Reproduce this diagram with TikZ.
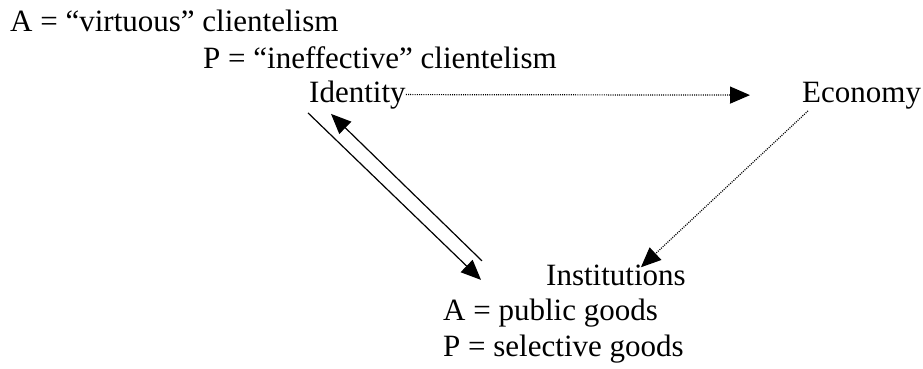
\documentclass[tikz,border=0pt]{standalone}
\usepackage{fontspec}
\setmainfont{Liberation Serif}
\usepackage{tikz}
\usetikzlibrary{arrows.meta,positioning,calc}

\begin{document}
\begin{tikzpicture}[x=1pt,y=-1pt,
  lbl/.style={anchor=base west, inner sep=0pt, font=\fontsize{31}{36}\selectfont},
  link/.style={line width=1.2pt, -{Triangle[length=20pt,width=17pt]}},
  weak/.style={link, dash pattern=on 1pt off 1.2pt}]
  \useasboundingbox (0,0) rectangle (923,369);
  % definitions of the two kinds of clientelism
  \node[lbl] (virtuous) at (10,32) {A = “virtuous” clientelism};
  \node[lbl] (ineffective) at (203,68) {P = “ineffective” clientelism};
  % the three corners
  \node[lbl] (identity) at (309,102) {Identity};
  \node[lbl] (economy) at (802,102) {Economy};
  \node[lbl] (institutions) at (546,285) {Institutions};
  \node[lbl] (public) at (443,320.5) {A = public goods};
  \node[lbl] (selective) at (443,356) {P = selective goods};
  % links
  \draw[weak, shorten >=52pt] (identity.east) -- (economy.west);
  \draw[weak] ($(economy.south west)+(6,2)$) -- ($(institutions.north east)+(-45,3)$);
  \draw[link] ($(identity.south west)+(-1,4)$) -- ($(institutions.west)+(-65,5)$);
  \draw[link] ($(institutions.west)+(-64,-14)$) -- ($(identity.south west)+(22,5)$);
\end{tikzpicture}
\end{document}
